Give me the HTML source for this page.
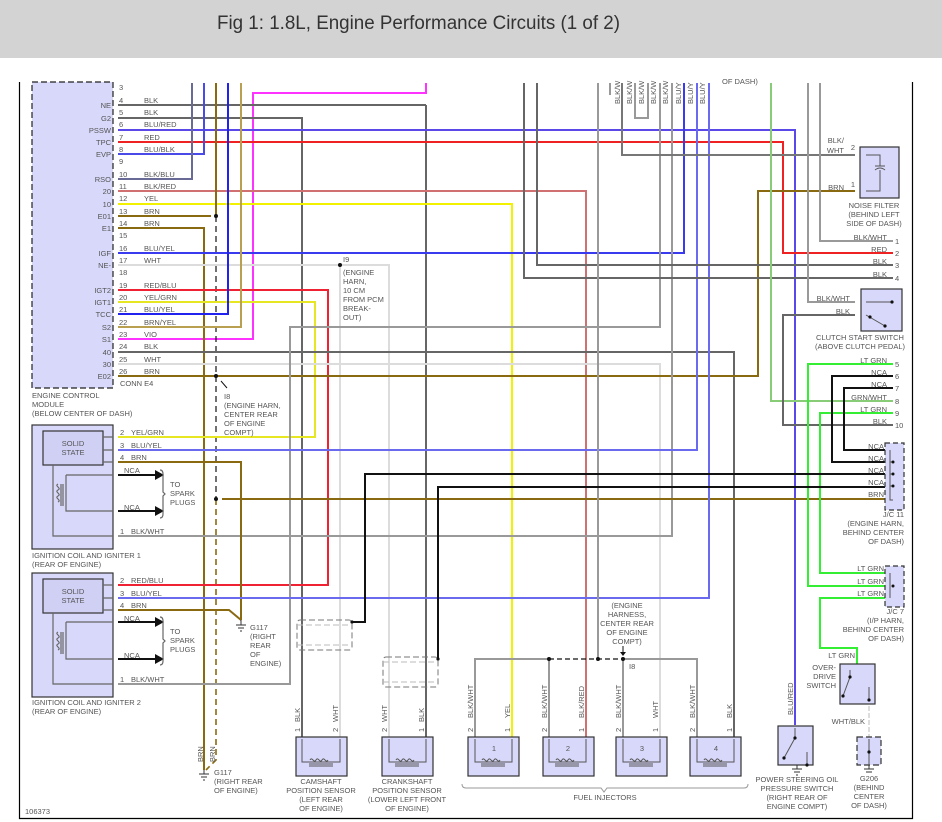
<!DOCTYPE html>
<html><head><meta charset="utf-8"><style>
html,body{margin:0;padding:0;background:#fff;width:942px;height:822px;overflow:hidden}
svg{display:block}
text{font-family:"Liberation Sans",sans-serif;font-size:7.5px;fill:#555}
.w{fill:none;stroke-width:2}
</style></head><body>
<svg width="942" height="822" viewBox="0 0 942 822" xmlns="http://www.w3.org/2000/svg">
<rect x="0" y="0" width="942" height="58" fill="#d3d3d3"/>
<text x="217" y="29" style="font-size:19px;fill:#333" textLength="403" lengthAdjust="spacingAndGlyphs">Fig 1: 1.8L, Engine Performance Circuits (1 of 2)</text>
<path d="M19.5 82V818.5H912.5V82" fill="none" stroke="#000" stroke-width="1.2"/>

<rect x="32" y="82" width="81" height="306" fill="#d8d8fa" stroke="#222" stroke-dasharray="6,3" stroke-width="1.2"/>

<g class="w">
<path d="M426 83V93H253V339H118" stroke="#ff33ff"/>
<path d="M118 105H426M426 105V737" stroke="#666"/>
<path d="M118 118H302V737" stroke="#666"/>
<path d="M118 130H795V725" stroke="#5a48e8"/>
<path d="M118 142H783V253H893" stroke="#ee2222"/>
<path d="M118 154H204V83" stroke="#4a4ae8"/>
<path d="M118 179H192V83" stroke="#6a6a96"/>
<path d="M118 191H586V737" stroke="#d07070"/>
<path d="M118 204H512V737" stroke="#f2f200"/>
<path d="M118 216H211M216 83V216" stroke="#8a6a10"/>
<path d="M216 216V499" stroke="#111" stroke-width="1.2" stroke-dasharray="6,4"/>
<path d="M216 499V760L206 770" stroke="#8a6a10" stroke-width="1.6" stroke-dasharray="6,4"/>
<path d="M118 228H204V770" stroke="#8a6a10"/>
<path d="M118 253H684V83" stroke="#3a3aee"/>
<path d="M118 265H389V737M340 265V737" stroke="#dcdcdc"/>
<path d="M118 290H328V585H118" stroke="#ee2233"/>
<path d="M118 302H315V437H118" stroke="#e6e622"/>
<path d="M118 314H228V83" stroke="#2222ee"/>
<path d="M118 327H241V83" stroke="#b8a050"/>
<path d="M118 352H734V737" stroke="#666"/>
<path d="M118 364H660V737" stroke="#dcdcdc"/>
<path d="M118 376H758V191H855" stroke="#8a6a10"/>
<path d="M118 684H290V327H660V83" stroke="#999"/>
<path d="M118 536H672V83" stroke="#999"/>
<path d="M118 462H241V620M118 610H229L241 620" stroke="#8a6a10"/>
<path d="M222 499H885" stroke="#8a6a10"/>
<path d="M118 450H697V83" stroke="#6a6aee"/>
<path d="M118 598H709V83" stroke="#6a6aee"/>
<path d="M524 83V278H893M537 83V265H893" stroke="#666"/>
<path d="M598 83V659" stroke="#999"/>
<path d="M622 83V155H855" stroke="#777"/>
<path d="M635 83V118H648V83M610 83V95M660 83V95" stroke="#999"/>
<path d="M771 83V401H893" stroke="#88cc77"/>
<path d="M808 83V302H855M820 83V241H893" stroke="#999"/>
<path d="M855 315H783V425H893" stroke="#666"/>
<path d="M893 364H808V586H885M893 413H820V573H885M885 598H820V648H857V664" stroke="#33ee33"/>
<path d="M893 376H832V462H885M893 388H844V450H885" stroke="#111"/>
<path d="M352 622H365V474H885M438 659V487H885" stroke="#111"/>
<path d="M475 737V659H549M623 659H697V737M549 659V737M623 659V737" stroke="#999"/>
<path d="M549 659H623" stroke="#111" stroke-width="1.2" stroke-dasharray="5,3"/>
<path d="M869 706V737" stroke="#ddd" stroke-dasharray="5,2"/>
<path d="M118 475H162M118 511H162M118 622H162M118 659H162" stroke="#111"/>
</g>
<g fill="#111">
<circle cx="216" cy="216" r="2"/><circle cx="216" cy="376" r="2"/><circle cx="216" cy="499" r="2"/>
<circle cx="340" cy="265" r="2"/><circle cx="549" cy="659" r="2"/><circle cx="598" cy="659" r="2"/><circle cx="623" cy="659" r="2"/>
<circle cx="352" cy="622" r="1.6"/><circle cx="438" cy="659" r="1.6"/>
<path d="M155 470L164 475L155 480ZM155 506L164 511L155 516ZM155 617L164 622L155 627ZM155 654L164 659L155 664Z"/>
</g>
<path d="M227 388L221 381" stroke="#111"/><path d="M623 646V655" stroke="#111"/><path d="M620 652L623 656L626 652Z" fill="#111"/>

<g stroke="#333" stroke-width="1.2">
<rect x="32" y="425" width="81" height="124" fill="#d8d8fa"/>
<rect x="43" y="431" width="60" height="34" fill="#d0d0f5"/>
<rect x="32" y="573" width="81" height="124" fill="#d8d8fa"/>
<rect x="43" y="579" width="60" height="34" fill="#d0d0f5"/>
</g>
<g fill="none" stroke="#666" stroke-width="1.2">
<path d="M103 437H113M103 450H113M103 462H113M53 465V536H113M66 475H113M66 475V511H113"/>
<path d="M103 585H113M103 598H113M103 610H113M53 613V684H113M66 622H113M66 622V659H113"/>
<path d="M58 484c-4 2 4 4 0 6c-4 2 4 4 0 6c-4 2 4 4 0 6M63 484V506M61 484V506M58 632c-4 2 4 4 0 6c-4 2 4 4 0 6c-4 2 4 4 0 6M63 632V654M61 632V654"/>
<path d="M160 470q3 0 3 4v18l2 2l-2 2v18q0 4-3 4M160 617q3 0 3 4v18l2 2l-2 2v18q0 4-3 4"/>
</g>
<path d="M462 784q0 4 4 4h135l3 4l3-4h137q4 0 4-4" fill="none" stroke="#999"/>
<text x="73" y="446" text-anchor="middle">SOLID</text><text x="73" y="455" text-anchor="middle">STATE</text>
<text x="73" y="594" text-anchor="middle">SOLID</text><text x="73" y="603" text-anchor="middle">STATE</text>
<text x="170" y="487">TO</text><text x="170" y="496">SPARK</text><text x="170" y="505">PLUGS</text>
<text x="170" y="634">TO</text><text x="170" y="643">SPARK</text><text x="170" y="652">PLUGS</text>
<text x="120" y="435">2</text><text x="131" y="435">YEL/GRN</text>
<text x="120" y="448">3</text><text x="131" y="448">BLU/YEL</text>
<text x="120" y="460">4</text><text x="131" y="460">BRN</text>
<text x="124" y="473">NCA</text><text x="124" y="510">NCA</text>
<text x="120" y="534">1</text><text x="131" y="534">BLK/WHT</text>
<text x="120" y="583">2</text><text x="131" y="583">RED/BLU</text>
<text x="120" y="596">3</text><text x="131" y="596">BLU/YEL</text>
<text x="120" y="608">4</text><text x="131" y="608">BRN</text>
<text x="124" y="621">NCA</text><text x="124" y="658">NCA</text>
<text x="120" y="682">1</text><text x="131" y="682">BLK/WHT</text>
<text x="32" y="558">IGNITION COIL AND IGNITER 1</text><text x="32" y="567">(REAR OF ENGINE)</text>
<text x="32" y="705">IGNITION COIL AND IGNITER 2</text><text x="32" y="714">(REAR OF ENGINE)</text>

<g>
<text x="111" y="108" text-anchor="end">NE</text><text x="111" y="121" text-anchor="end">G2</text>
<text x="111" y="133" text-anchor="end">PSSW</text><text x="111" y="145" text-anchor="end">TPC</text>
<text x="111" y="157" text-anchor="end">EVP</text><text x="111" y="182" text-anchor="end">RSO</text>
<text x="111" y="194" text-anchor="end">20</text><text x="111" y="207" text-anchor="end">10</text>
<text x="111" y="219" text-anchor="end">E01</text><text x="111" y="231" text-anchor="end">E1</text>
<text x="111" y="256" text-anchor="end">IGF</text><text x="111" y="268" text-anchor="end">NE-</text>
<text x="111" y="293" text-anchor="end">IGT2</text><text x="111" y="305" text-anchor="end">IGT1</text>
<text x="111" y="317" text-anchor="end">TCC</text><text x="111" y="330" text-anchor="end">S2</text>
<text x="111" y="342" text-anchor="end">S1</text><text x="111" y="355" text-anchor="end">40</text>
<text x="111" y="367" text-anchor="end">30</text><text x="111" y="379" text-anchor="end">E02</text>
</g>
<g>
<text x="119" y="90">3</text>
<text x="119" y="103">4</text><text x="144" y="103">BLK</text>
<text x="119" y="115">5</text><text x="144" y="115">BLK</text>
<text x="119" y="127">6</text><text x="144" y="127">BLU/RED</text>
<text x="119" y="140">7</text><text x="144" y="140">RED</text>
<text x="119" y="152">8</text><text x="144" y="152">BLU/BLK</text>
<text x="119" y="164">9</text>
<text x="119" y="177">10</text><text x="144" y="177">BLK/BLU</text>
<text x="119" y="189">11</text><text x="144" y="189">BLK/RED</text>
<text x="119" y="201">12</text><text x="144" y="201">YEL</text>
<text x="119" y="214">13</text><text x="144" y="214">BRN</text>
<text x="119" y="226">14</text><text x="144" y="226">BRN</text>
<text x="119" y="238">15</text>
<text x="119" y="251">16</text><text x="144" y="251">BLU/YEL</text>
<text x="119" y="263">17</text><text x="144" y="263">WHT</text>
<text x="119" y="275">18</text>
<text x="119" y="288">19</text><text x="144" y="288">RED/BLU</text>
<text x="119" y="300">20</text><text x="144" y="300">YEL/GRN</text>
<text x="119" y="312">21</text><text x="144" y="312">BLU/YEL</text>
<text x="119" y="325">22</text><text x="144" y="325">BRN/YEL</text>
<text x="119" y="337">23</text><text x="144" y="337">VIO</text>
<text x="119" y="349">24</text><text x="144" y="349">BLK</text>
<text x="119" y="362">25</text><text x="144" y="362">WHT</text>
<text x="119" y="374">26</text><text x="144" y="374">BRN</text>
<text x="120" y="386">CONN E4</text>
</g>
<text x="32" y="398">ENGINE CONTROL</text><text x="32" y="407">MODULE</text><text x="32" y="416">(BELOW CENTER OF DASH)</text>
<text x="224" y="399">I8</text><text x="224" y="408">(ENGINE HARN,</text><text x="224" y="417">CENTER REAR</text><text x="224" y="426">OF ENGINE</text><text x="224" y="435">COMPT)</text>
<text x="343" y="262">I9</text><text x="343" y="275">(ENGINE</text><text x="343" y="284">HARN,</text><text x="343" y="293">10 CM</text><text x="343" y="302">FROM PCM</text><text x="343" y="311">BREAK-</text><text x="343" y="320">OUT)</text>

<g stroke="#333" stroke-width="1">
<path d="M241 620V625M236 625H246M238 628H244M240 631H242M204 770V774M199 774H209M201 777H207M203 780H205M797 765V769M792 769H802M794 772H800M796 775H798M869 765V769M864 769H874M866 772H872"/>
</g>
<text x="250" y="630">G117</text><text x="250" y="639">(RIGHT</text><text x="250" y="648">REAR</text><text x="250" y="657">OF</text><text x="250" y="666">ENGINE)</text>
<text x="214" y="775">G117</text><text x="214" y="784">(RIGHT REAR</text><text x="214" y="793">OF ENGINE)</text>
<text transform="translate(203,762) rotate(-90)">BRN</text><text transform="translate(215,762) rotate(-90)">BRN</text>

<g fill="none" stroke="#777" stroke-dasharray="6,3">
<rect x="297" y="620" width="55" height="30" rx="3"/><rect x="383" y="657" width="55" height="30" rx="3"/>
<path d="M297 625H352M297 645H352M383 662H438M383 682H438" stroke="#bbb"/>
</g>

<g stroke="#333" stroke-width="1.2" fill="#d8d8fa">
<rect x="296" y="737" width="51" height="39"/><rect x="382" y="737" width="51" height="39"/>
<rect x="468" y="737" width="51" height="39"/><rect x="543" y="737" width="51" height="39"/>
<rect x="616" y="737" width="51" height="39"/><rect x="690" y="737" width="51" height="39"/>
<rect x="778" y="726" width="35" height="39"/><rect x="840" y="664" width="35" height="40"/>
<rect x="860" y="147" width="39" height="51"/><rect x="861" y="289" width="41" height="42"/>
<rect x="857" y="737" width="24" height="28" stroke-dasharray="6,3"/>
<rect x="885" y="443" width="19" height="67" stroke-dasharray="5,3"/>
<rect x="885" y="566" width="19" height="41" stroke-dasharray="5,3"/>
</g>
<g fill="none" stroke="#555" stroke-width="1">
<path d="M302 739V762H340V739M310 760c2-4 4 4 6 0c2-4 4 4 6 0c2-4 4 4 6 0M309 764H333M309 766H333"/>
<path d="M389 739V762H426V739M396 760c2-4 4 4 6 0c2-4 4 4 6 0c2-4 4 4 6 0M395 764H419M395 766H419"/>
<path d="M475 739V762H512V739M482 760c2-4 4 4 6 0c2-4 4 4 6 0c2-4 4 4 6 0M481 764H505M481 766H505"/>
<path d="M549 739V762H586V739M556 760c2-4 4 4 6 0c2-4 4 4 6 0c2-4 4 4 6 0M555 764H579M555 766H579"/>
<path d="M623 739V762H660V739M630 760c2-4 4 4 6 0c2-4 4 4 6 0c2-4 4 4 6 0M629 764H653M629 766H653"/>
<path d="M697 739V762H734V739M704 760c2-4 4 4 6 0c2-4 4 4 6 0c2-4 4 4 6 0M703 764H727M703 766H727"/>
<path d="M795 728V738L784 758M807 752V765M850 670V677L843 696M869 687V700M869 739V765"/>
<path d="M866 155H880V166M875 166H885M875 170Q880 166 885 170M880 170V191H866"/>
<path d="M866 302H892M866 315L885 326"/>
<path d="M890 452V500H893M890 462H893M890 474H893M890 486H893M890 450V462M890 573V598"/>
</g>
<g fill="#111"><circle cx="795" cy="738" r="1.6"/><circle cx="784" cy="758" r="1.6"/><circle cx="807" cy="765" r="1.6"/><circle cx="850" cy="677" r="1.6"/><circle cx="843" cy="696" r="1.6"/><circle cx="869" cy="700" r="1.6"/><circle cx="869" cy="752" r="1.6"/><circle cx="892" cy="302" r="1.6"/><circle cx="870" cy="317" r="1.6"/><circle cx="885" cy="326" r="1.6"/>
<circle cx="893" cy="462" r="1.5"/><circle cx="893" cy="474" r="1.5"/><circle cx="893" cy="486" r="1.5"/><circle cx="893" cy="586" r="1.5"/></g>
<text x="494" y="751" text-anchor="middle">1</text><text x="568" y="751" text-anchor="middle">2</text><text x="642" y="751" text-anchor="middle">3</text><text x="716" y="751" text-anchor="middle">4</text>

<g>
<text transform="translate(300,722) rotate(-90)">BLK</text><text transform="translate(338,722) rotate(-90)">WHT</text>
<text transform="translate(300,732) rotate(-90)">1</text><text transform="translate(338,732) rotate(-90)">2</text>
<text transform="translate(387,722) rotate(-90)">WHT</text><text transform="translate(424,722) rotate(-90)">BLK</text>
<text transform="translate(387,732) rotate(-90)">2</text><text transform="translate(424,732) rotate(-90)">1</text>
<text transform="translate(473,718) rotate(-90)">BLK/WHT</text><text transform="translate(510,718) rotate(-90)">YEL</text>
<text transform="translate(547,718) rotate(-90)">BLK/WHT</text><text transform="translate(584,718) rotate(-90)">BLK/RED</text>
<text transform="translate(621,718) rotate(-90)">BLK/WHT</text><text transform="translate(658,718) rotate(-90)">WHT</text>
<text transform="translate(695,718) rotate(-90)">BLK/WHT</text><text transform="translate(732,718) rotate(-90)">BLK</text>
<text transform="translate(473,732) rotate(-90)">2</text><text transform="translate(510,732) rotate(-90)">1</text>
<text transform="translate(547,732) rotate(-90)">2</text><text transform="translate(584,732) rotate(-90)">1</text>
<text transform="translate(621,732) rotate(-90)">2</text><text transform="translate(658,732) rotate(-90)">1</text>
<text transform="translate(695,732) rotate(-90)">2</text><text transform="translate(732,732) rotate(-90)">1</text>
<text transform="translate(793,715) rotate(-90)">BLU/RED</text>
<text transform="translate(620,104) rotate(-90)">BLK/W</text><text transform="translate(632,104) rotate(-90)">BLK/W</text>
<text transform="translate(644,104) rotate(-90)">BLK/W</text><text transform="translate(656,104) rotate(-90)">BLK/W</text>
<text transform="translate(668,104) rotate(-90)">BLK/W</text><text transform="translate(681,104) rotate(-90)">BLU/Y</text>
<text transform="translate(693,104) rotate(-90)">BLU/Y</text><text transform="translate(705,104) rotate(-90)">BLU/Y</text>
</g>
<text x="722" y="84">OF DASH)</text>

<g text-anchor="middle">
<text x="321" y="784">CAMSHAFT</text><text x="321" y="793">POSITION SENSOR</text><text x="321" y="802">(LEFT REAR</text><text x="321" y="811">OF ENGINE)</text>
<text x="407" y="784">CRANKSHAFT</text><text x="407" y="793">POSITION SENSOR</text><text x="407" y="802">(LOWER LEFT FRONT</text><text x="407" y="811">OF ENGINE)</text>
<text x="605" y="800">FUEL INJECTORS</text>
<text x="627" y="608">(ENGINE</text><text x="627" y="617">HARNESS,</text><text x="627" y="626">CENTER REAR</text><text x="627" y="635">OF ENGINE</text><text x="627" y="644">COMPT)</text>
<text x="797" y="782">POWER STEERING OIL</text><text x="797" y="791">PRESSURE SWITCH</text><text x="797" y="800">(RIGHT REAR OF</text><text x="797" y="809">ENGINE COMPT)</text>
<text x="869" y="781">G206</text><text x="869" y="790">(BEHIND</text><text x="869" y="799">CENTER</text><text x="869" y="808">OF DASH)</text>
<text x="874" y="208">NOISE FILTER</text><text x="874" y="217">(BEHIND LEFT</text><text x="874" y="226">SIDE OF DASH)</text>
<text x="860" y="340">CLUTCH START SWITCH</text><text x="860" y="349">(ABOVE CLUTCH PEDAL)</text>
</g>
<text x="629" y="669">I8</text>
<g text-anchor="end">
<text x="844" y="143">BLK/</text><text x="844" y="153">WHT</text><text x="855" y="150">2</text>
<text x="844" y="190">BRN</text><text x="855" y="187">1</text>
<text x="887" y="240">BLK/WHT</text><text x="887" y="252">RED</text><text x="887" y="264">BLK</text><text x="887" y="277">BLK</text>
<text x="850" y="301">BLK/WHT</text><text x="850" y="314">BLK</text>
<text x="887" y="363">LT GRN</text><text x="887" y="375">NCA</text><text x="887" y="387">NCA</text><text x="887" y="400">GRN/WHT</text><text x="887" y="412">LT GRN</text><text x="887" y="424">BLK</text>
<text x="884" y="449">NCA</text><text x="884" y="461">NCA</text><text x="884" y="473">NCA</text><text x="884" y="485">NCA</text><text x="884" y="497">BRN</text>
<text x="904" y="517">J/C 11</text><text x="904" y="526">(ENGINE HARN,</text><text x="904" y="535">BEHIND CENTER</text><text x="904" y="544">OF DASH)</text>
<text x="884" y="571">LT GRN</text><text x="884" y="584">LT GRN</text><text x="884" y="596">LT GRN</text>
<text x="904" y="614">J/C 7</text><text x="904" y="623">(I/P HARN,</text><text x="904" y="632">BEHIND CENTER</text><text x="904" y="641">OF DASH)</text>
<text x="855" y="658">LT GRN</text>
<text x="836" y="670">OVER-</text><text x="836" y="679">DRIVE</text><text x="836" y="688">SWITCH</text>
<text x="865" y="724">WHT/BLK</text>
</g>
<g>
<text x="895" y="244">1</text><text x="895" y="256">2</text><text x="895" y="268">3</text><text x="895" y="281">4</text>
<text x="895" y="367">5</text><text x="895" y="379">6</text><text x="895" y="391">7</text><text x="895" y="404">8</text><text x="895" y="416">9</text><text x="895" y="428">10</text>
</g>
<text x="25" y="814">106373</text>
</svg>
</body></html>
